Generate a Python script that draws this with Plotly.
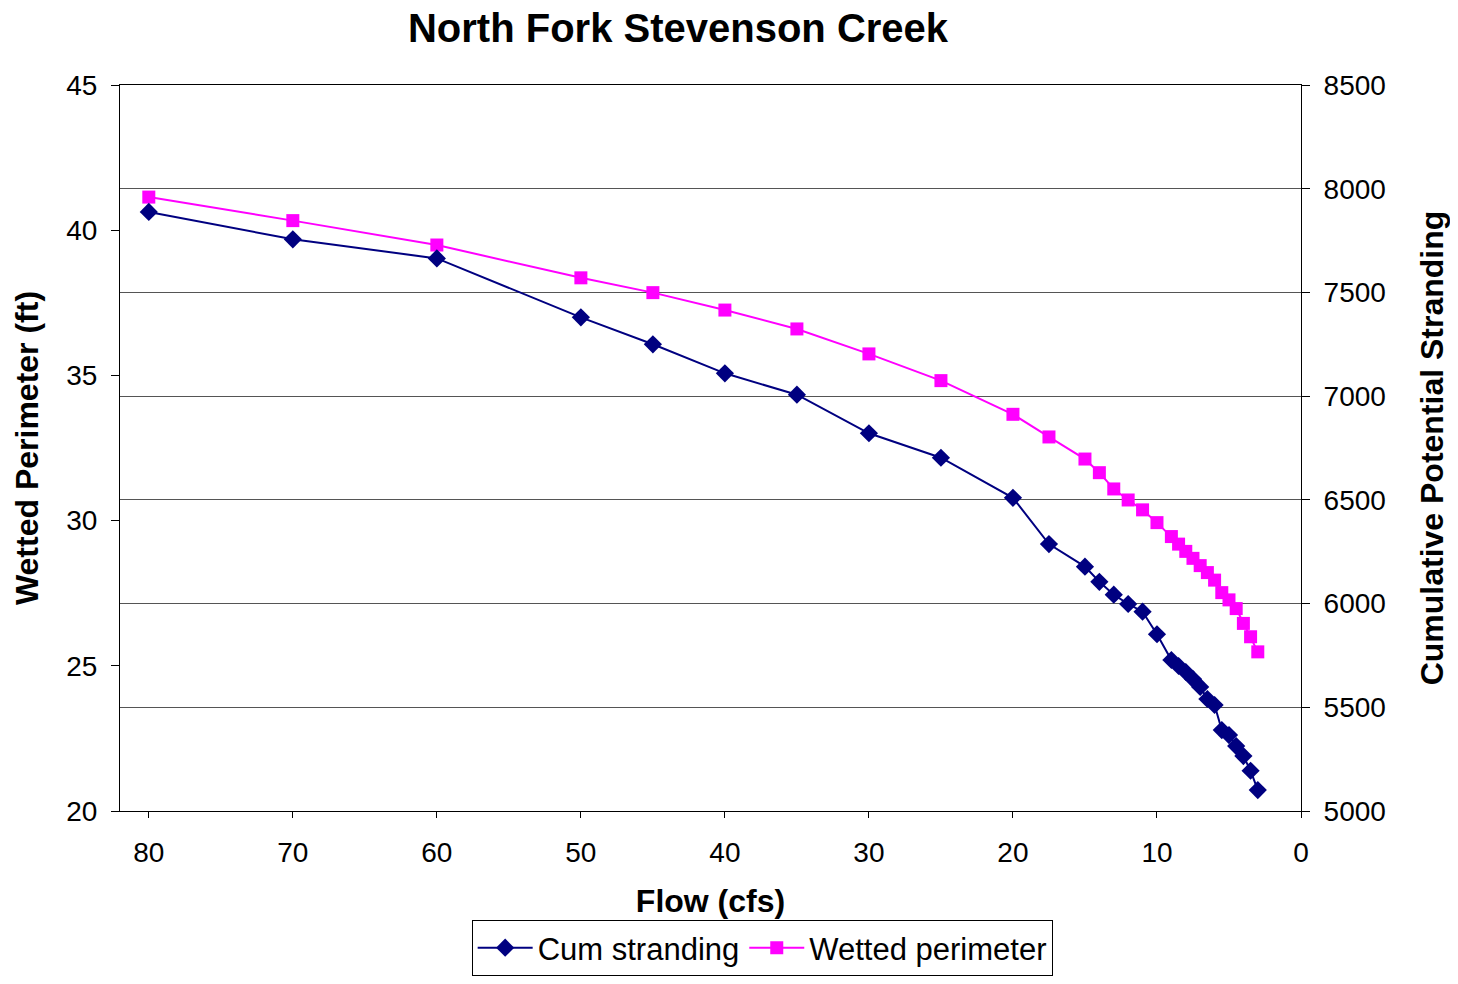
import plotly.graph_objects as go

# flow values (cfs)
flow = [80, 70, 60, 50, 45, 40, 35, 30, 25, 20, 17.5, 15, 14, 13, 12, 11, 10,
        9, 8.5, 8, 7.5, 7, 6.5, 6, 5.5, 5, 4.5, 4, 3.5, 3]

# cumulative stranding (right axis)
cum_stranding = [7888, 7756, 7664, 7380, 7250, 7110, 7007, 6821, 6703, 6510, 6287,
                 6178, 6105, 6043, 5998, 5961, 5852,
                 5728, 5699, 5670, 5636, 5598, 5540, 5511, 5390, 5366, 5313, 5265, 5194, 5101]

# wetted perimeter in ft (left axis)
wetted_perimeter = [41.14, 40.33, 39.49, 38.36, 37.85, 37.25, 36.60, 35.74, 34.82, 33.66, 32.88,
                    32.12, 31.65, 31.09, 30.71, 30.37, 29.93,
                    29.45, 29.19, 28.94, 28.70, 28.45, 28.21, 27.95, 27.52, 27.27, 26.97, 26.46, 26.00, 25.48]

font = "Liberation Sans, Arial, sans-serif"

fig = go.Figure()
fig.add_trace(go.Scatter(x=flow, y=cum_stranding, name="Cum stranding", yaxis="y2",
                         mode="lines+markers",
                         line=dict(color="#000080", width=2),
                         marker=dict(symbol="diamond", size=14, color="#000080")))
fig.add_trace(go.Scatter(x=flow, y=wetted_perimeter, name="Wetted perimeter",
                         mode="lines+markers",
                         line=dict(color="#FF00FF", width=2),
                         marker=dict(symbol="square", size=13, color="#FF00FF")))

# page body has an 8px margin, so the figure is a bit smaller than the window
fig.update_layout(
    width=1442, height=968,
    margin=dict(l=112, r=149, t=77, b=165),
    paper_bgcolor="white", plot_bgcolor="white",
    font=dict(family=font, size=28, color="black"),
    title=dict(text="<b>North Fork Stevenson Creek</b>", font=dict(size=40),
               x=0.4725, xref="paper", xanchor="center", y=0.979, yanchor="middle"),
    xaxis=dict(range=[82, 0], tickvals=[80, 70, 60, 50, 40, 30, 20, 10, 0],
               showline=True, linecolor="black", linewidth=1, mirror=True,
               ticks="outside", ticklen=6, tickcolor="black", showgrid=False, zeroline=False,
               ticklabelstandoff=10, automargin=False,
               title=dict(text="<b>Flow (cfs)</b>", font=dict(size=32), standoff=23)),
    yaxis=dict(range=[20, 45], dtick=5, showline=True, linecolor="black", linewidth=1,
               mirror=True, ticks="outside", ticklen=8, tickcolor="black",
               showgrid=False, zeroline=False, ticklabelstandoff=8, automargin=False,
               title=dict(text="<b>Wetted Perimeter (ft)</b>", font=dict(size=32), standoff=18)),
    yaxis2=dict(range=[5000, 8500], dtick=500, overlaying="y", side="right",
                showline=True, linecolor="black", linewidth=1,
                ticks="outside", ticklen=8, tickcolor="black", ticklabelstandoff=8,
                showgrid=True, gridcolor="#555555", gridwidth=1, zeroline=False,
                automargin=False,
                title=dict(text="<b>Cumulative Potential Stranding</b>", font=dict(size=32), standoff=36)),
    legend=dict(orientation="h", xref="container", yref="container",
                x=0.523, xanchor="center", y=0.0, yanchor="bottom",
                font=dict(size=31), bordercolor="black", borderwidth=1,
                traceorder="normal", itemwidth=55),
    showlegend=True,
)

fig.write_html("out.html")
